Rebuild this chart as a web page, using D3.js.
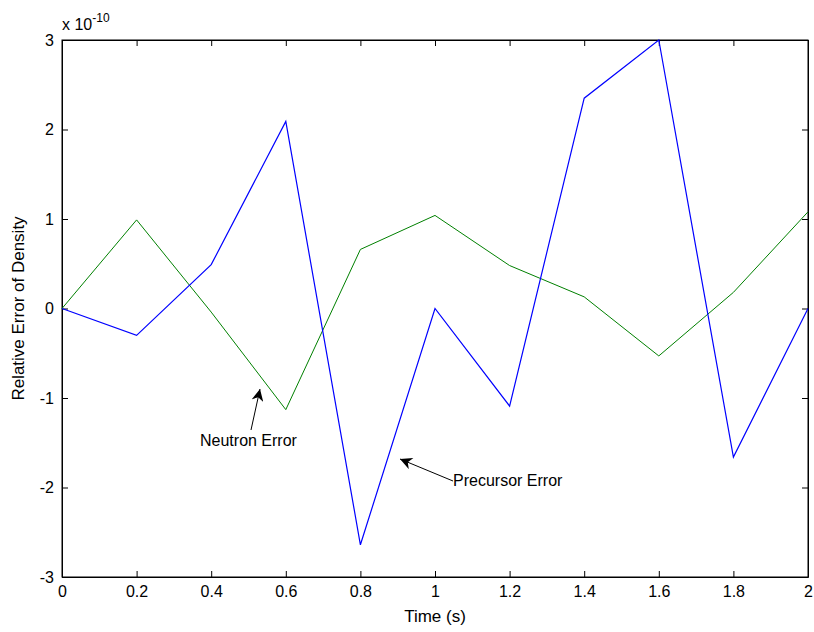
<!DOCTYPE html>
<html>
<head>
<meta charset="utf-8">
<script src="https://cdn.jsdelivr.net/npm/d3@7"></script>
<style>
  body { margin: 0; background: #fff; }
  svg { display: block; font-family: "Liberation Sans", Arial, sans-serif; }
</style>
</head>
<body>
<div id="chart"></div>
<script>
// Time samples (s)
const times = [0, 0.2, 0.4, 0.6, 0.8, 1.0, 1.2, 1.4, 1.6, 1.8, 2.0];
// Values in units of 1e-10
const precursorError = [0, -0.30, 0.49, 2.09, -2.64, 0.0, -1.09, 2.35, 3.0, -1.66, 0.0];
const neutronError = [0, 0.99, -0.04, -1.13, 0.66, 1.04, 0.48, 0.13, -0.53, 0.18, 1.08];
const xTicks = [0, 0.2, 0.4, 0.6, 0.8, 1, 1.2, 1.4, 1.6, 1.8, 2];
const yTicks = [-3, -2, -1, 0, 1, 2, 3];

const width = 814, height = 632;
const margin = { top: 40, right: 6, bottom: 55, left: 62 };
const innerW = width - margin.left - margin.right;
const innerH = height - margin.top - margin.bottom;

const svg = d3.select("#chart")
    .append("svg")
    .attr("width", width)
    .attr("height", height);

const x = d3.scaleLinear().domain([0, 2]).range([0, innerW]);
const y = d3.scaleLinear().domain([-3, 3]).range([innerH, 0]);

const g = svg.append("g")
    .attr("transform", `translate(${margin.left},${margin.top})`);

// Axes with inward ticks on all four sides (plain hyphen for minus, like MATLAB)
const fmt = d => String(+d.toFixed(1));
const bottomAxis = g.append("g")
    .attr("transform", `translate(0,${innerH})`)
    .call(d3.axisBottom(x).tickValues(xTicks).tickSizeInner(-6).tickSizeOuter(0).tickPadding(8).tickFormat(fmt));
const topAxis = g.append("g")
    .call(d3.axisTop(x).tickValues(xTicks).tickSizeInner(-6).tickSizeOuter(0).tickFormat(""));
const leftAxis = g.append("g")
    .call(d3.axisLeft(y).tickValues(yTicks).tickSizeInner(-6).tickSizeOuter(0).tickPadding(8).tickFormat(fmt));
const rightAxis = g.append("g")
    .attr("transform", `translate(${innerW},0)`)
    .call(d3.axisRight(y).tickValues(yTicks).tickSizeInner(-6).tickSizeOuter(0).tickFormat(""));

[bottomAxis, topAxis, leftAxis, rightAxis].forEach(a => {
    a.selectAll("path").attr("stroke", "#000").attr("stroke-width", 1);
    a.selectAll("line").attr("stroke", "#000");
    a.selectAll("text").attr("fill", "#000").style("font-size", "16px");
});
bottomAxis.selectAll("text").attr("dy", "0.75em");

// Plot box
g.append("rect")
    .attr("width", innerW)
    .attr("height", innerH)
    .attr("fill", "none")
    .attr("stroke", "#000");

// Lines
const line = d3.line()
    .x((d, i) => x(times[i]))
    .y(d => y(d));

g.append("path")
    .datum(neutronError)
    .attr("fill", "none")
    .attr("stroke", "#008000")
    .attr("stroke-width", 1)
    .attr("d", line);

g.append("path")
    .datum(precursorError)
    .attr("fill", "none")
    .attr("stroke", "#0000ff")
    .attr("stroke-width", 1.2)
    .attr("d", line);

// Exponent label
const expo = svg.append("text")
    .attr("x", margin.left)
    .attr("y", 30)
    .style("font-size", "16px")
    .attr("fill", "#000");
expo.append("tspan").text("x 10");
expo.append("tspan").attr("dy", -8).style("font-size", "12px").text("-10");

// Axis labels
svg.append("text")
    .attr("x", margin.left + innerW / 2)
    .attr("y", 622)
    .attr("text-anchor", "middle")
    .style("font-size", "17px")
    .text("Time (s)");

svg.append("text")
    .attr("transform", `translate(24,${margin.top + innerH / 2}) rotate(-90)`)
    .attr("text-anchor", "middle")
    .style("font-size", "17px")
    .text("Relative Error of Density");

// Annotations with arrows
svg.append("defs").append("marker")
    .attr("id", "arrow")
    .attr("viewBox", "0 0 10 10")
    .attr("refX", 10)
    .attr("refY", 5)
    .attr("markerWidth", 14)
    .attr("markerHeight", 12)
    .attr("markerUnits", "userSpaceOnUse")
    .attr("orient", "auto")
    .append("path")
    .attr("d", "M0,0 L10,5 L0,10 L3,5 Z")
    .attr("fill", "#000");

const notes = [
    { text: "Neutron Error", tx: 200, ty: 446, x1: 251, y1: 430, x2: 260, y2: 389 },
    { text: "Precursor Error", tx: 453, ty: 486, x1: 453, y1: 481, x2: 400, y2: 459 }
];
notes.forEach(n => {
    svg.append("line")
        .attr("x1", n.x1).attr("y1", n.y1)
        .attr("x2", n.x2).attr("y2", n.y2)
        .attr("stroke", "#000")
        .attr("stroke-width", 1)
        .attr("marker-end", "url(#arrow)");
    svg.append("text")
        .attr("x", n.tx)
        .attr("y", n.ty)
        .style("font-size", "16px")
        .text(n.text);
});
</script>
</body>
</html>
